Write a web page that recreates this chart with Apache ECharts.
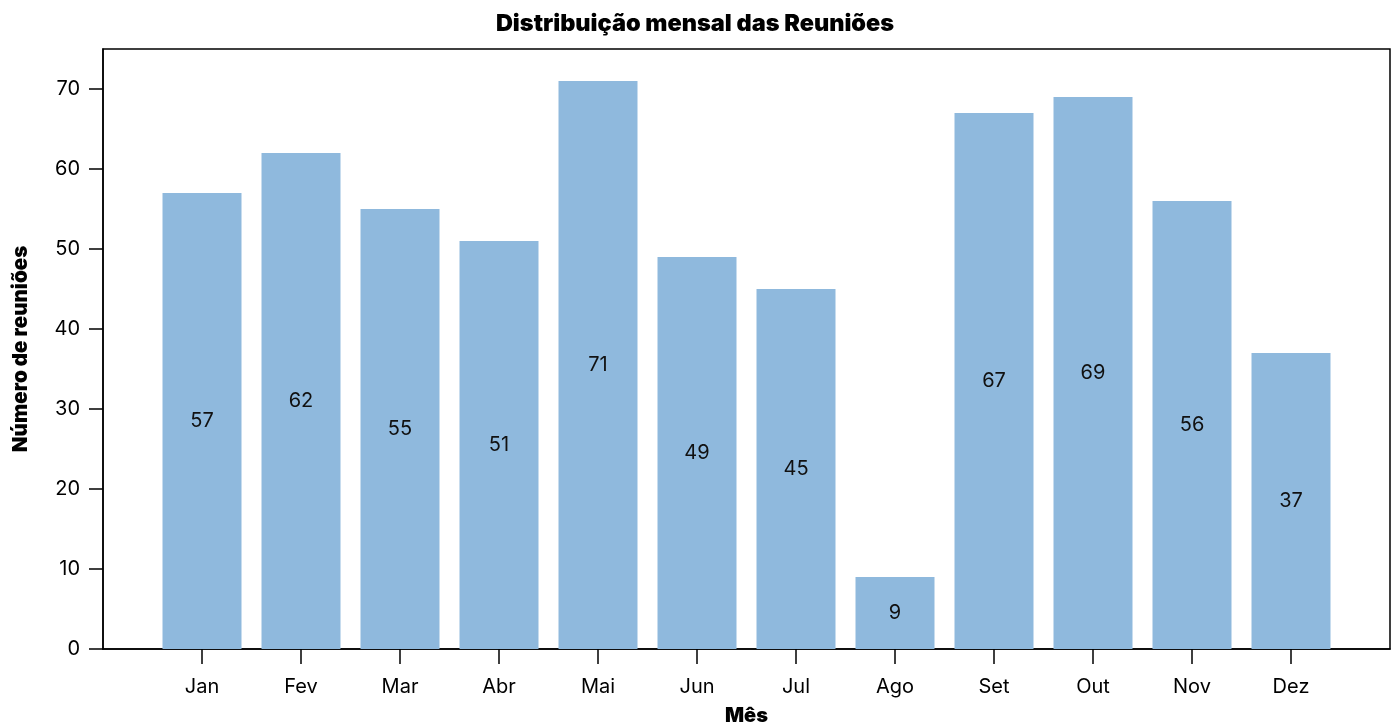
<!DOCTYPE html>
<html>
<head>
<meta charset="utf-8">
<script src="https://cdn.jsdelivr.net/npm/echarts@6/dist/echarts.min.js"></script>
<style>
  html, body { margin: 0; padding: 0; background: #fff; }
  #chart { width: 1397px; height: 725px; }
</style>
</head>
<body>
<div id="chart"></div>
<script>
const months = ["Jan", "Fev", "Mar", "Abr", "Mai", "Jun", "Jul", "Ago", "Set", "Out", "Nov", "Dez"];
const meetings = [57, 62, 55, 51, 71, 49, 45, 9, 67, 69, 56, 37];
const yTicks = [0, 10, 20, 30, 40, 50, 60, 70];

const font = "Inter, 'Noto Sans', sans-serif";
const chart = echarts.init(document.getElementById("chart"));

// pad one empty slot each side so the months sit inside the frame
const categories = ["", ...months, ""];
const seriesData = ["-", ...meetings, "-"];

chart.setOption({
  animation: false,
  textStyle: { fontFamily: font },
  title: {
    text: "Distribuição mensal das Reuniões",
    left: 690,
    top: 7,
    textAlign: "center",
    textStyle: { fontSize: 23.5, fontWeight: 900, color: "#000", fontFamily: font },
  },
  grid: {
    left: 103, right: 7, top: 49, bottom: 76,
    outerBoundsMode: "none",
    show: true, borderColor: "#000", borderWidth: 1.5,
  },
  xAxis: {
    type: "category",
    data: categories,
    boundaryGap: false,
    name: "Mês",
    nameLocation: "middle",
    nameGap: 57,
    nameTextStyle: { fontSize: 20, fontWeight: 900, color: "#000" },
    axisLine: { lineStyle: { color: "#000", width: 1.5 } },
    axisTick: { length: 15, interval: (i, v) => v !== "", lineStyle: { color: "#000", width: 1.5 } },
    axisLabel: { fontSize: 20, color: "#000", margin: 28, interval: (i, v) => v !== "" },
    splitLine: { show: false },
  },
  yAxis: {
    type: "value",
    min: 0,
    max: 75,
    interval: 10,
    name: "Número de reuniões",
    nameLocation: "middle",
    nameGap: 72,
    nameTextStyle: { fontSize: 20.5, fontWeight: 900, color: "#000" },
    axisLine: { show: true, lineStyle: { color: "#000", width: 1.5 } },
    axisTick: { show: true, length: 14, customValues: yTicks, lineStyle: { color: "#000", width: 1.5 } },
    axisLabel: { fontSize: 20, color: "#000", margin: 23, customValues: yTicks },
    splitLine: { show: false },
  },
  series: [
    {
      type: "bar",
      data: seriesData,
      barWidth: 79,
      itemStyle: { color: "#8fb9dd", borderWidth: 0 },
      label: { show: true, position: "inside", fontSize: 20, color: "#111" },
    },
  ],
});
</script>
</body>
</html>
